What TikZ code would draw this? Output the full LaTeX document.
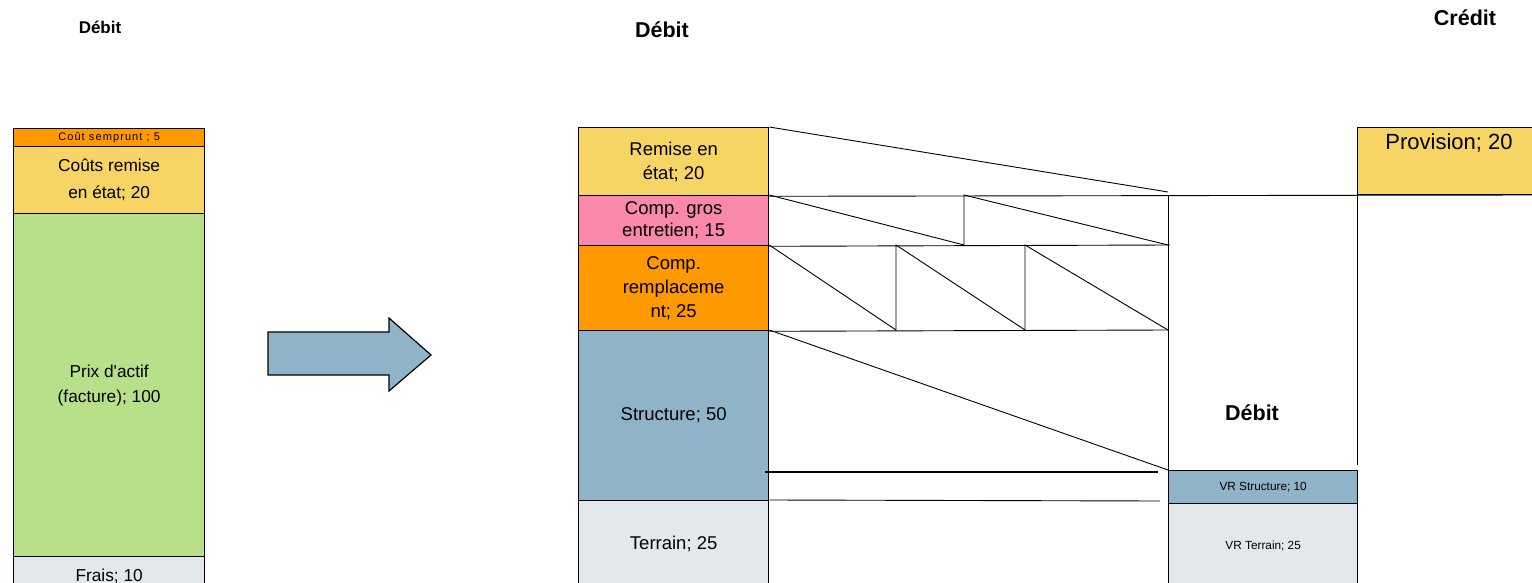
\documentclass[tikz,border=0pt]{standalone}
\usepackage{fontspec}
\setmainfont{Liberation Sans}
\definecolor{corange}{HTML}{FF9900}
\definecolor{cyellow}{HTML}{F6D565}
\definecolor{cgreen}{HTML}{B8E08A}
\definecolor{cgrey}{HTML}{E3E8EB}
\definecolor{cpink}{HTML}{F988AB}
\definecolor{cblue}{HTML}{8FB3C8}
\begin{document}
\begin{tikzpicture}[x=1pt,y=-1pt,
  blk/.style={draw=black, line width=1.3pt, inner sep=0pt, anchor=north west, align=center, font=\fontsize{18.5}{24}\selectfont},
  thin/.style={draw=black, line width=0.9pt},
  ttl/.style={font=\fontsize{21.5}{24}\selectfont\bfseries}]
\useasboundingbox (0,0) rectangle (1532,583);
\clip (0,0) rectangle (1532,583);
% left column
\node[blk, fill=corange, minimum width=191pt, minimum height=18pt, font=\fontsize{11}{12}\selectfont\addfontfeature{LetterSpace=10}] (lemp) at (13,128) {Coût semprunt ; 5};
\node[blk, fill=cyellow, minimum width=191pt, minimum height=67pt, font=\fontsize{17.3}{27}\selectfont] (lrem) at (13,146) {Coûts remise\\en état; 20};
\node[blk, fill=cgreen, minimum width=191pt, minimum height=343pt, font=\fontsize{17.3}{25}\selectfont] (lprix) at (13,213) {Prix d\textquotesingle actif\\(facture); 100};
\node[blk, fill=cgrey, minimum width=191pt, minimum height=40pt, font=\fontsize{17.3}{25}\selectfont] (lfrais) at (13,556) {Frais; 10};
\node[font=\fontsize{17}{20}\selectfont\bfseries] (tdl) at (100,27) {Débit};
% arrow
\draw[line width=1.2pt, fill=cblue] (268,332) -- (389,332) -- (389,318) -- (431,355) -- (389,391) -- (389,375) -- (268,375) -- cycle;
% middle column
\node[ttl] (tdm) at (662,30) {Débit};
\node[blk, fill=cyellow, minimum width=190pt, minimum height=68pt] (mrem) at (578,127) {Remise en\\état; 20};
\node[blk, fill=cpink, minimum width=190pt, minimum height=50pt, font=\fontsize{18.5}{22}\selectfont] (mgros) at (578,195) {Comp. gros\\entretien; 15};
\node[blk, fill=corange, minimum width=190pt, minimum height=85pt] (mrep) at (578,245) {Comp.\\remplaceme\\nt; 25};
\node[blk, fill=cblue, minimum width=190pt, minimum height=170pt] (mstr) at (578,330) {Structure; 50};
\node[blk, fill=cgrey, minimum width=190pt, minimum height=86pt] (mter) at (578,500) {Terrain; 25};
% right part
\node[blk, fill=cblue, minimum width=189pt, minimum height=33pt, font=\fontsize{11.8}{13}\selectfont] (vrs) at (1168,470) {VR Structure; 10};
\node[blk, fill=cgrey, minimum width=189pt, minimum height=84pt, font=\fontsize{11.8}{13}\selectfont] (vrt) at (1168,503) {VR Terrain; 25};
\node[blk, fill=cyellow, minimum width=185pt, minimum height=67pt] (prov) at (1357,127) {};
\node[font=\fontsize{22}{26}\selectfont] (provt) at (1449,143) {Provision; 20};
\node[ttl] (tdr) at (1252,413) {Débit};
\node[ttl] (tcr) at (1465,18) {Crédit};
% coordinates
\coordinate (r1) at (1168,192);
\coordinate (h1) at (1532,195);
\coordinate (g1) at (964,245);
\coordinate (g1t) at (964,195);
\coordinate (g2) at (1168,245);
\coordinate (p1) at (896,330);
\coordinate (p1t) at (896,245);
\coordinate (p2) at (1025,330);
\coordinate (p2t) at (1025,245);
\coordinate (p3) at (1168,330);
\coordinate (v1t) at (1168,195);
\coordinate (v2b) at (1357,465);
\coordinate (s1a) at (765,472);
\coordinate (s1b) at (1158,472);
\coordinate (s2b) at (1160,501);
% lines
\draw[thin] (mrem.north east) -- (r1);
\draw[thin] (mrem.south east) -- (h1);
\draw[thin] (mgros.north east) -- (g1) -- (g1t) -- (g2);
\draw[thin] (mgros.south east) -- (1170,245);
\draw[thin] (mrep.north east) -- (p1) -- (p1t) -- (p2) -- (p2t) -- (p3);
\draw[thin] (mrep.south east) -- (p3);
\draw[thin] (v1t) -- (vrs.north west);
\draw[thin] (prov.south west) -- (v2b);
\draw[thin] (mstr.north east) -- (vrs.north west);
\draw[draw=black, line width=2pt] (s1a) -- (s1b);
\draw[thin] (mter.north east) -- (s2b);
\end{tikzpicture}
\end{document}
